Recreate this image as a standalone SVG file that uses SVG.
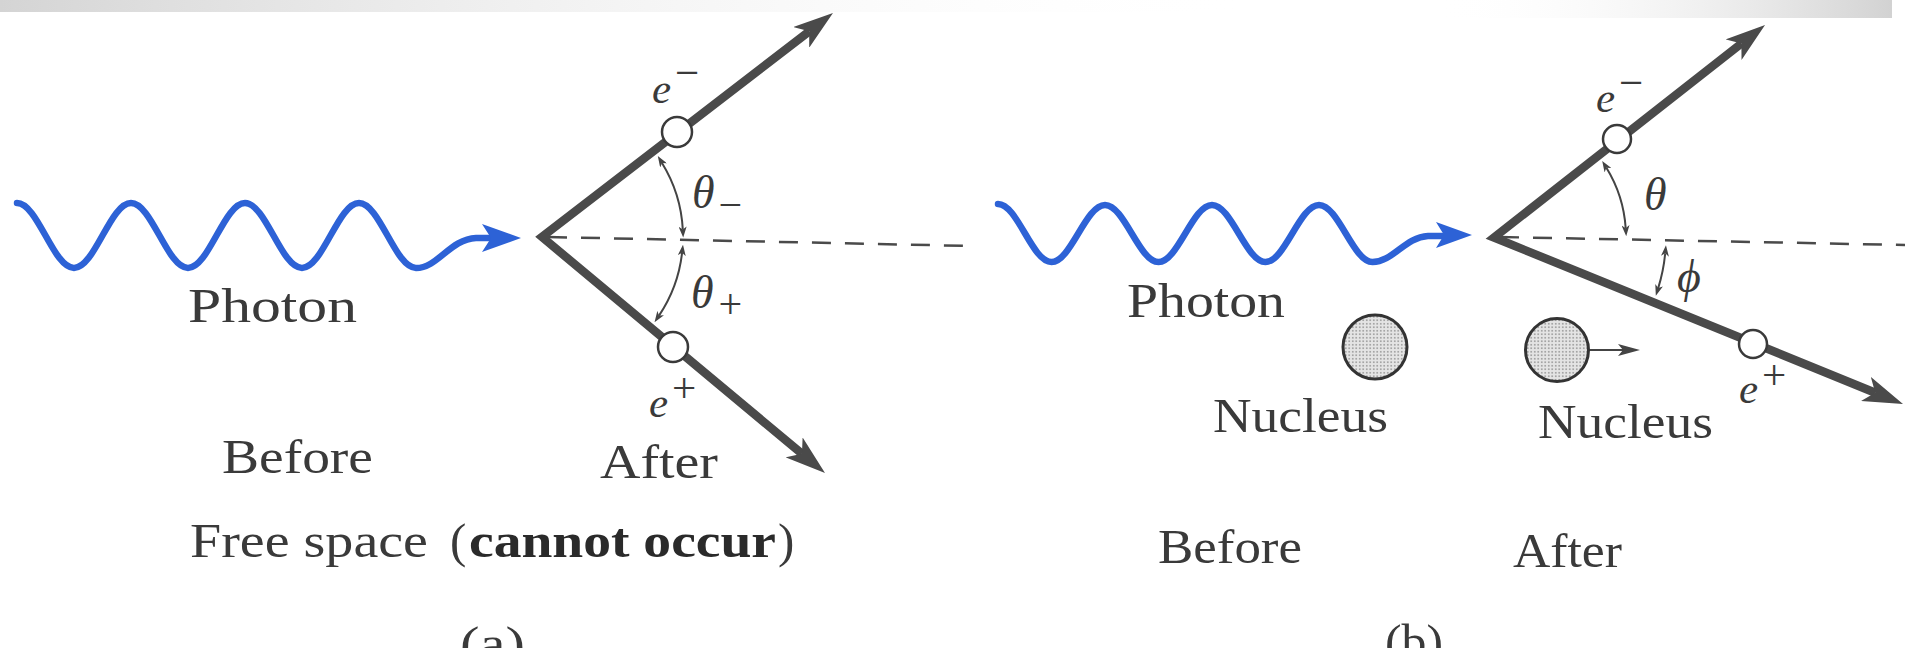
<svg xmlns="http://www.w3.org/2000/svg" width="1905" height="648" viewBox="0 0 1905 648">
<style>
.lbl{font-family:"Liberation Serif","DejaVu Serif",serif;font-size:49px;fill:#3a3a3a}
.bold{font-weight:bold;fill:#2a2a2a}
.it{font-family:"Liberation Serif","DejaVu Serif",serif;font-style:italic;font-size:43px;fill:#3a3a3a}
.gk{font-size:46px}
.rm{font-style:normal}
.wave{fill:none;stroke:#2d62d6;stroke-width:6.5;stroke-linecap:round;stroke-linejoin:round}
.wavehead{fill:#2d62d6}
.track{fill:none;stroke:#4a4a4a;stroke-width:8.5;stroke-linejoin:miter;stroke-miterlimit:6}
.dash{fill:none;stroke:#4a4a4a;stroke-width:2.5;stroke-dasharray:19 14}
.arc{fill:none;stroke:#444;stroke-width:2}
.pt{fill:#fff;stroke:#3a3a3a;stroke-width:2.5}
.nuc{fill:url(#stipple);stroke:#333;stroke-width:3}
.thin{fill:none;stroke:#444;stroke-width:2.2}
</style>
<defs>
<linearGradient id="bandL" x1="0" y1="0" x2="1" y2="0">
<stop offset="0" stop-color="#d4d4d4"/>
<stop offset="1" stop-color="#ffffff" stop-opacity="0"/>
</linearGradient>
<linearGradient id="bandR" x1="0" y1="0" x2="1" y2="0">
<stop offset="0" stop-color="#ffffff" stop-opacity="0"/>
<stop offset="1" stop-color="#d2d2d2"/>
</linearGradient>
<pattern id="stipple" width="3.5" height="3.5" patternUnits="userSpaceOnUse">
<rect width="3.5" height="3.5" fill="#e4e4e4"/>
<circle cx="1.75" cy="1.75" r="0.8" fill="#8a8a8a"/>
</pattern>
<marker id="bigHead" viewBox="0 0 40 26" refX="10" refY="13" markerWidth="40" markerHeight="26" markerUnits="userSpaceOnUse" orient="auto">
<path d="M0,0 L40,13 L0,26 L10,13 Z" fill="#4a4a4a"/>
</marker>
<marker id="smHead" viewBox="0 0 11 8" refX="3" refY="4" markerWidth="11" markerHeight="8" markerUnits="userSpaceOnUse" orient="auto-start-reverse">
<path d="M0,0 L11,4 L0,8 L3,4 Z" fill="#444"/>
</marker>
<marker id="medHead" viewBox="0 0 22 12" refX="5" refY="6" markerWidth="22" markerHeight="12" markerUnits="userSpaceOnUse" orient="auto">
<path d="M0,0 L22,6 L0,12 L5,6 Z" fill="#444"/>
</marker>
</defs>
<rect width="1905" height="648" fill="#ffffff"/>
<rect x="0" y="0" width="1250" height="12" fill="url(#bandL)"/>
<rect x="1440" y="0" width="452" height="18" fill="url(#bandR)"/>

<!-- Connectors -->
<g id="connectors">
<line class="dash" x1="548" y1="237" x2="972" y2="246"/>
<polyline class="track" points="809.2,31.3 542,237 801.96,453.8"/>
<path d="M542,237 L809.2,31.3" fill="none" stroke="none" marker-end="url(#bigHead)"/>
<path d="M542,237 L801.96,453.8" fill="none" stroke="none" marker-end="url(#bigHead)"/>
<path class="arc" d="M662.0,162.9 A141,141 0 0 1 682.8,229.6" marker-start="url(#smHead)" marker-end="url(#smHead)"/>
<path class="arc" d="M682.1,252.7 A141,141 0 0 1 659.0,315.6" marker-start="url(#smHead)" marker-end="url(#smHead)"/>

<line class="dash" x1="1500" y1="237" x2="1905" y2="245"/>
<polyline class="track" points="1741.4,43.5 1494,237.5 1875.2,392.7"/>
<path d="M1494,237 L1741.4,43.5" fill="none" stroke="none" marker-end="url(#bigHead)"/>
<path d="M1494,238 L1875.2,392.7" fill="none" stroke="none" marker-end="url(#bigHead)"/>
<path class="arc" d="M1606.4,167.7 A132,132 0 0 1 1625.7,228.2" marker-start="url(#smHead)" marker-end="url(#smHead)"/>
<path class="arc" d="M1665.2,253.3 A172,172 0 0 1 1658.2,288.1" marker-start="url(#smHead)" marker-end="url(#smHead)"/>
<line class="thin" x1="1589" y1="350" x2="1623" y2="350" marker-end="url(#medHead)"/>
</g>

<!-- Panel (a) -->
<g id="photon-a">
<path class="wave" d="M17,203 C37.7,203 53.3,268 74,268 C94.7,268 110.3,203 131,203 C151.7,203 167.3,268 188,268 C208.7,268 224.3,203 245,203 C265.7,203 281.3,268 302,268 C322.7,268 338.3,203 359,203 C379.7,203 395.3,268 416,268 C438,268 450,239 476,238 L490,238"/>
<path class="wavehead" d="M521,238 L482,224 L491,238 L482,252 Z"/>
<text class="lbl" x="188" y="322" textLength="169" lengthAdjust="spacingAndGlyphs">Photon</text>
</g>
<g id="electron-a">
<circle class="pt" cx="677" cy="132" r="15"/>
<text class="it" x="652" y="103">e<tspan class="rm" dx="4" dy="-16">−</tspan></text>
</g>
<g id="positron-a">
<circle class="pt" cx="673" cy="347" r="15"/>
<text class="it" x="649" y="417">e<tspan class="rm" dx="4" dy="-15">+</tspan></text>
</g>
<g id="angles-a">
<text class="it gk" x="692" y="208">θ<tspan class="rm" dx="4" dy="11" font-size="42">−</tspan></text>
<text class="it gk" x="691" y="308">θ<tspan class="rm" dx="5" dy="10" font-size="42">+</tspan></text>
</g>
<g id="captions-a">
<text class="lbl" x="222" y="473" textLength="151" lengthAdjust="spacingAndGlyphs">Before</text>
<text class="lbl" x="600" y="478" textLength="118" lengthAdjust="spacingAndGlyphs">After</text>
<text class="lbl" x="190" y="557" textLength="238" lengthAdjust="spacingAndGlyphs">Free space</text>
<text class="lbl" x="450" y="557">(</text>
<text class="lbl bold" x="469" y="557" textLength="307" lengthAdjust="spacingAndGlyphs">cannot occur</text>
<text class="lbl" x="778" y="557">)</text>
<text class="lbl" x="460" y="660" textLength="65" lengthAdjust="spacingAndGlyphs">(a)</text>
</g>

<!-- Panel (b) -->
<g id="photon-b">
<path class="wave" d="M998,204 C1017.4,204 1032.1,262 1051.5,262 C1070.9,262 1085.6,205 1105,205 C1124.4,205 1139.1,262 1158.5,262 C1177.9,262 1192.6,205 1212,205 C1231.4,205 1246.1,262 1265.5,262 C1284.9,262 1299.6,205 1319,205 C1338.4,205 1353.1,262 1372.5,262 C1393,262 1405,237 1428,236 L1442,236"/>
<path class="wavehead" d="M1472,235 L1436,222 L1444,235 L1436,248 Z"/>
<text class="lbl" x="1127" y="317" textLength="158" lengthAdjust="spacingAndGlyphs">Photon</text>
</g>
<g id="nucleus-before">
<circle class="nuc" cx="1375" cy="347" r="32"/>
<text class="lbl" x="1213" y="432" textLength="175" lengthAdjust="spacingAndGlyphs">Nucleus</text>
</g>
<g id="nucleus-after">
<circle class="nuc" cx="1557" cy="350" r="31.5"/>
<text class="lbl" x="1538" y="438" textLength="175" lengthAdjust="spacingAndGlyphs">Nucleus</text>
</g>
<g id="electron-b">
<circle class="pt" cx="1617" cy="139" r="14"/>
<text class="it" x="1596" y="112">e<tspan class="rm" dx="4" dy="-15">−</tspan></text>
</g>
<g id="positron-b">
<circle class="pt" cx="1753" cy="344" r="14"/>
<text class="it" x="1739" y="403">e<tspan class="rm" dx="4" dy="-14">+</tspan></text>
</g>
<g id="angles-b">
<text class="it gk" x="1644" y="210">θ</text>
<text class="it gk" x="1677" y="292">ϕ</text>
</g>
<g id="captions-b">
<text class="lbl" x="1158" y="563" textLength="144" lengthAdjust="spacingAndGlyphs">Before</text>
<text class="lbl" x="1513" y="567" textLength="109" lengthAdjust="spacingAndGlyphs">After</text>
<text class="lbl" x="1385" y="658" textLength="58" lengthAdjust="spacingAndGlyphs">(b)</text>
</g>
</svg>
